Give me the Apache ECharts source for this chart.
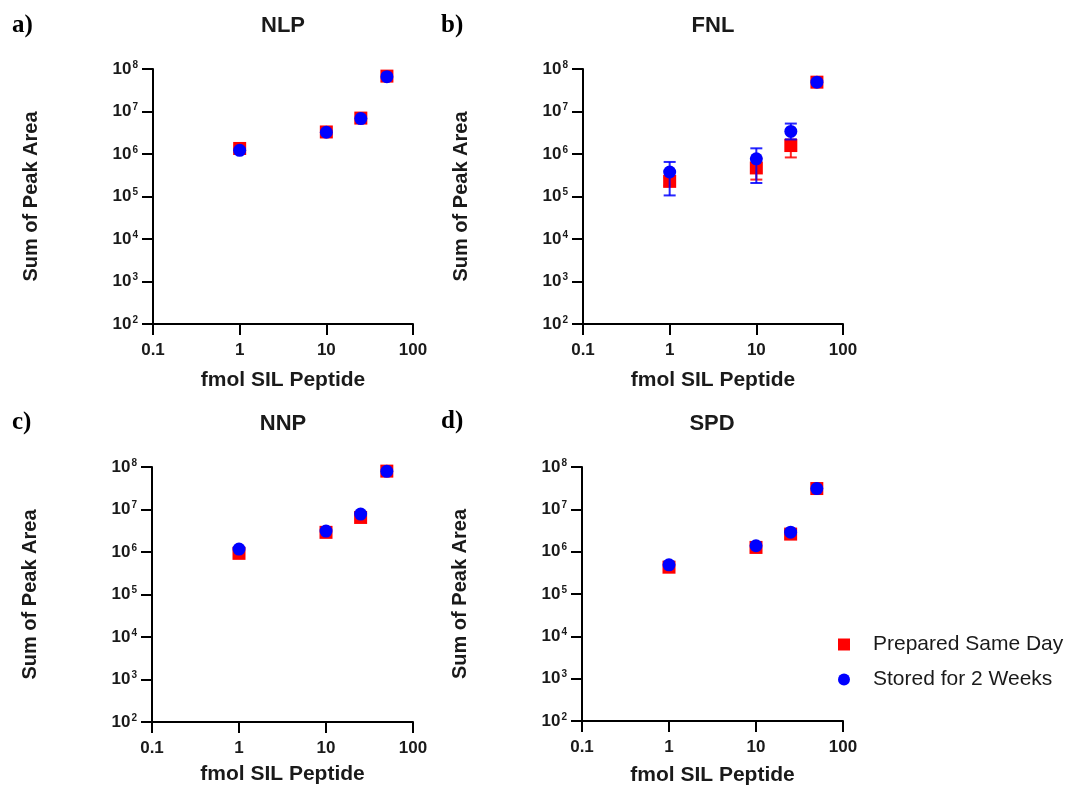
<!DOCTYPE html>
<html>
<head>
<meta charset="utf-8">
<script src="https://cdn.jsdelivr.net/npm/echarts@6/dist/echarts.min.js"></script>
<style>
  html, body { margin: 0; padding: 0; background: #ffffff; }
  #chart { width: 1070px; height: 787px; }
</style>
</head>
<body>
<div id="chart"></div>
<script>
// Amount of SIL peptide spiked (fmol)
const doses = [1, 10, 25, 50];

// Panel titles and letters
const panelTitles = ['NLP', 'FNL', 'NNP', 'SPD'];
const panelLetters = ['a)', 'b)', 'c)', 'd)'];

// Sum of peak area, prepared the same day
const nlpPrepared = [1.35e6, 3.3e6, 7.0e6, 6.8e7];
const fnlPrepared = [2.27e5, 4.7e5, 1.58e6, 4.9e7];
const nnpPrepared = [9.3e5, 2.9e6, 6.5e6, 8.0e7];
const spdPrepared = [4.3e5, 1.26e6, 2.6e6, 3.1e7];

// Sum of peak area, stored for 2 weeks
const nlpStored = [1.22e6, 3.25e6, 6.8e6, 6.6e7];
const fnlStored = [3.77e5, 7.7e5, 3.4e6, 4.9e7];
const nnpStored = [1.17e6, 3.1e6, 7.8e6, 7.9e7];
const spdStored = [4.9e5, 1.38e6, 2.88e6, 3.1e7];

// FNL error bar limits (low / high)
const fnlPreparedLow  = [1.8e5, 2.5e5, 8.3e5, 4.6e7];
const fnlPreparedHigh = [2.8e5, 8.0e5, 2.2e6, 5.2e7];
const fnlStoredLow    = [1.06e5, 2.08e5, 2.2e6, 4.6e7];
const fnlStoredHigh   = [6.5e5, 1.36e6, 5.2e6, 5.2e7];

// Tick labels
const xTickLabels = ['0.1', '1', '10', '100'];   // exponents -1 .. 2
const yTickExponents = ['2', '3', '4', '5', '6', '7', '8'];

// Legend names
const preparedName = 'Prepared Same Day';
const storedName = 'Stored for 2 Weeks';

const RED = '#ff0000';
const BLUE = '#0000ff';
const INK = '#1a1a1a';
const SANS = 'Liberation Sans';

const preparedSets = [nlpPrepared, fnlPrepared, nnpPrepared, spdPrepared];
const storedSets = [nlpStored, fnlStored, nnpStored, spdStored];

// Plot rectangles for the four panels
const grids = [
  { left: 153, top: 69, width: 260, height: 255 },
  { left: 583, top: 69, width: 260, height: 255 },
  { left: 152, top: 467, width: 261, height: 255 },
  { left: 582, top: 467, width: 261, height: 255 }
];
const xNameGaps = [46, 46, 42, 44];

function pairs(xs, ys) {
  return xs.map((x, i) => [x, ys[i]]);
}

const xAxes = grids.map((g, i) => ({
  type: 'log',
  logBase: 10,
  gridIndex: i,
  min: 0.1,
  max: 100,
  interval: 1,
  name: 'fmol SIL Peptide',
  nameLocation: 'middle',
  nameGap: xNameGaps[i],
  nameTextStyle: { fontFamily: SANS, fontSize: 21, fontWeight: 'bold', color: INK },
  axisLine: { show: true, lineStyle: { color: '#000', width: 2 } },
  axisTick: { show: true, length: 11, lineStyle: { color: '#000', width: 2 } },
  minorTick: { show: false },
  splitLine: { show: false },
  axisLabel: {
    margin: 18,
    fontFamily: SANS,
    fontSize: 17,
    fontWeight: 'bold',
    color: INK,
    formatter: v => xTickLabels[Math.round(Math.log10(v)) + 1]
  }
}));

const yAxes = grids.map((g, i) => ({
  type: 'log',
  logBase: 10,
  gridIndex: i,
  min: 100,
  max: 1e8,
  interval: 1,
  name: 'Sum of Peak Area',
  nameLocation: 'middle',
  nameGap: 112,
  nameTextStyle: { fontFamily: SANS, fontSize: 20, fontWeight: 'bold', color: INK },
  axisLine: { show: true, lineStyle: { color: '#000', width: 2 } },
  axisTick: { show: true, length: 11, lineStyle: { color: '#000', width: 2 } },
  minorTick: { show: false },
  splitLine: { show: false },
  axisLabel: {
    margin: 15,
    formatter: v => {
      const e = Math.round(Math.log10(v));
      return '{b|10}{s|' + yTickExponents[e - 2] + '}';
    },
    rich: {
      b: { fontFamily: SANS, fontSize: 17, fontWeight: 'bold', color: INK, lineHeight: 18 },
      s: { fontFamily: SANS, fontSize: 10, fontWeight: 'bold', color: INK, verticalAlign: 'top', lineHeight: 18, padding: [0, 0, 0, 1] }
    }
  }
}));

// Vertical error bars with caps: data items are [x, low, high]
function errorBarSeries(name, gridIndex, low, high, color, z) {
  return {
    type: 'custom',
    name: name,
    xAxisIndex: gridIndex,
    yAxisIndex: gridIndex,
    z: z,
    silent: true,
    data: doses.map((x, i) => [x, low[i], high[i]]),
    renderItem: (params, api) => {
      const top = api.coord([api.value(0), api.value(2)]);
      const bot = api.coord([api.value(0), api.value(1)]);
      const hw = 6;
      const style = { stroke: color, lineWidth: 2, opacity: 0.85 };
      return {
        type: 'group',
        children: [
          { type: 'line', shape: { x1: top[0], y1: top[1], x2: bot[0], y2: bot[1] }, style: style },
          { type: 'line', shape: { x1: top[0] - hw, y1: top[1], x2: top[0] + hw, y2: top[1] }, style: style },
          { type: 'line', shape: { x1: bot[0] - hw, y1: bot[1], x2: bot[0] + hw, y2: bot[1] }, style: style }
        ]
      };
    }
  };
}

const series = [];
grids.forEach((g, i) => {
  if (i === 1) {
    series.push(errorBarSeries(preparedName, i, fnlPreparedLow, fnlPreparedHigh, RED, 1));
  }
  series.push({
    type: 'scatter',
    name: preparedName,
    xAxisIndex: i,
    yAxisIndex: i,
    symbol: 'rect',
    symbolSize: 13,
    itemStyle: { color: RED, opacity: 1 },
    z: 2,
    data: pairs(doses, preparedSets[i])
  });
  if (i === 1) {
    series.push(errorBarSeries(storedName, i, fnlStoredLow, fnlStoredHigh, BLUE, 3));
  }
  series.push({
    type: 'scatter',
    name: storedName,
    xAxisIndex: i,
    yAxisIndex: i,
    symbol: 'circle',
    symbolSize: 13,
    itemStyle: { color: BLUE, opacity: 1 },
    z: 4,
    data: pairs(doses, storedSets[i])
  });
});

const titleCenters = [283, 713, 283, 712];
const titleTops = [15, 15, 413, 413];
const titles = panelTitles.map((t, i) => ({
  text: t,
  left: titleCenters[i],
  top: titleTops[i],
  textAlign: 'center',
  padding: 0,
  textStyle: { fontFamily: SANS, fontSize: 22, fontWeight: 'bold', color: INK }
}));

const letterPos = [[12, 13], [441, 13], [12, 410], [441, 409]];
const letters = panelLetters.map((t, i) => ({
  type: 'text',
  left: letterPos[i][0],
  top: letterPos[i][1],
  style: { text: t, font: 'bold 25px "Liberation Serif"', fill: '#000' }
}));

const legendText = { fontFamily: SANS, fontSize: 21, color: INK, padding: [0, 0, 0, 18] };

const option = {
  animation: false,
  backgroundColor: '#ffffff',
  title: titles,
  grid: grids,
  xAxis: xAxes,
  yAxis: yAxes,
  legend: [
    {
      data: [{ name: preparedName, icon: 'rect', itemStyle: { color: RED, opacity: 1 } }],
      left: 838, top: 634, padding: 0, itemWidth: 12, itemHeight: 12,
      textStyle: legendText, selectedMode: false
    },
    {
      data: [{ name: storedName, icon: 'circle', itemStyle: { color: BLUE, opacity: 1 } }],
      left: 838, top: 669, padding: 0, itemWidth: 12, itemHeight: 12,
      textStyle: legendText, selectedMode: false
    }
  ],
  graphic: letters,
  series: series
};

const chart = echarts.init(document.getElementById('chart'), null, { renderer: 'canvas' });
chart.setOption(option);
</script>
</body>
</html>
